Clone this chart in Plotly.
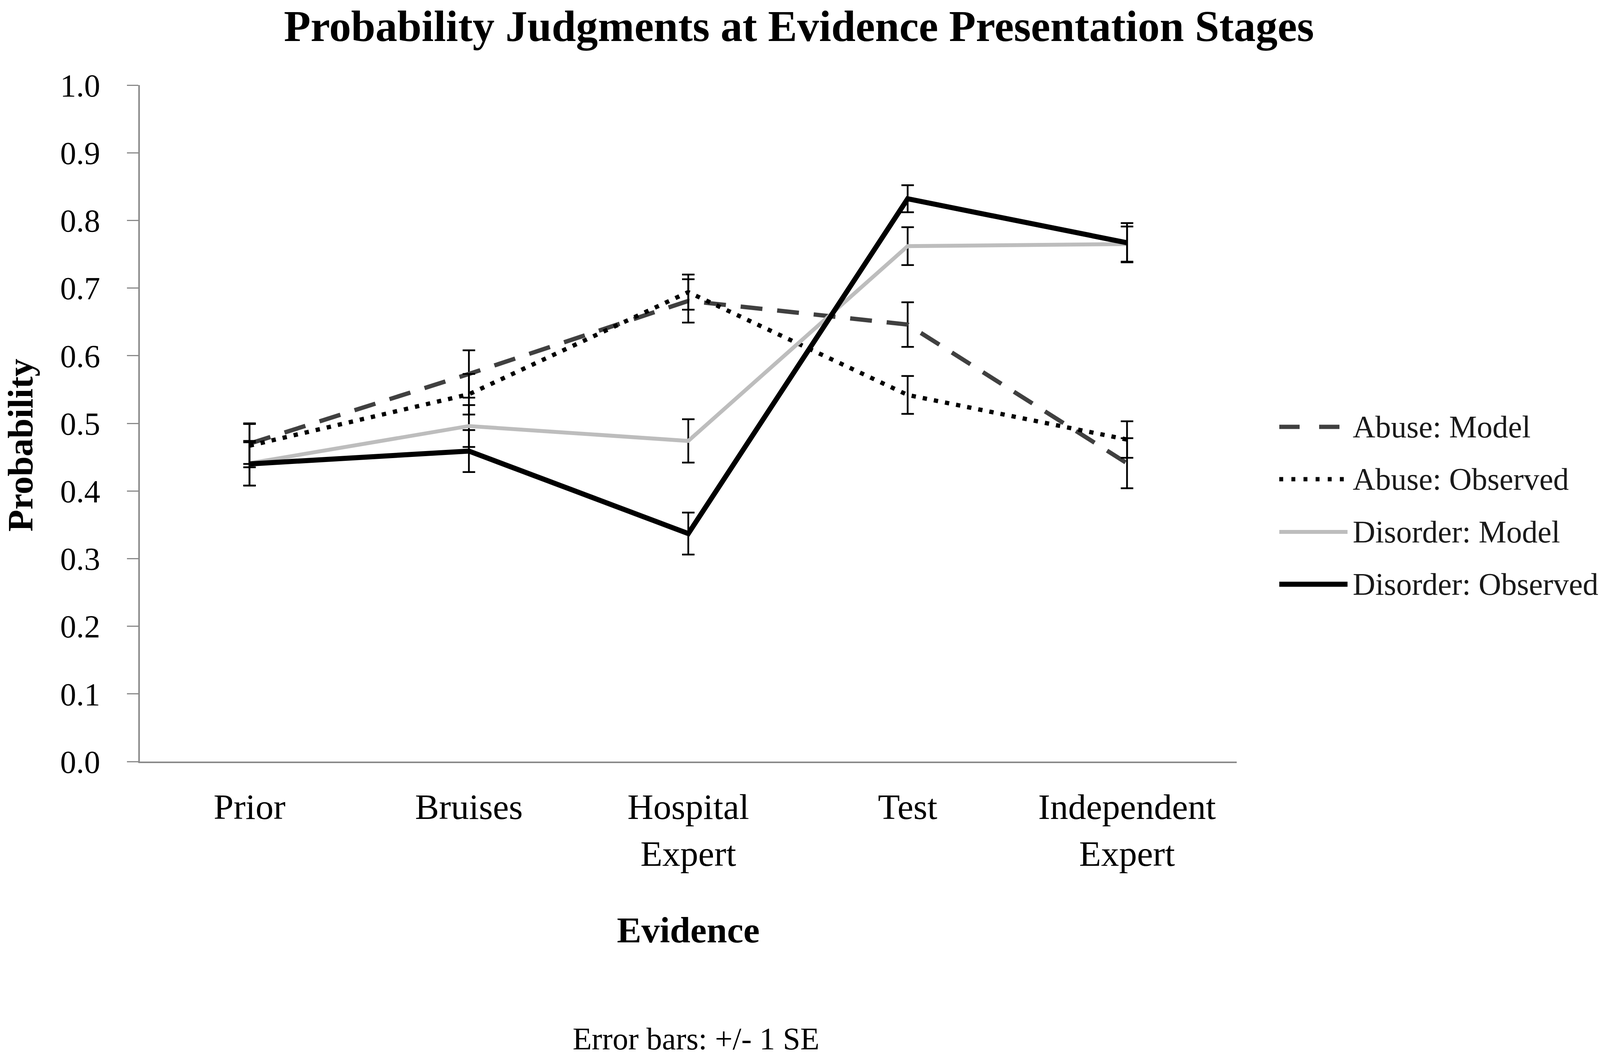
import plotly.graph_objects as go

categories = ["Prior", "Bruises", "Hospital<br>Expert", "Test", "Independent<br>Expert"]

abuse_model = [0.470, 0.573, 0.681, 0.646, 0.441]
abuse_model_se = [0.030, 0.035, 0.032, 0.033, 0.037]
abuse_observed = [0.467, 0.543, 0.694, 0.542, 0.476]
abuse_observed_se = [0.032, 0.030, 0.026, 0.028, 0.027]
disorder_model = [0.441, 0.496, 0.474, 0.762, 0.765]
disorder_model_se = [0.033, 0.031, 0.032, 0.028, 0.026]
disorder_observed = [0.440, 0.459, 0.337, 0.832, 0.767]
disorder_observed_se = [0.032, 0.031, 0.031, 0.020, 0.029]

series_names = ["Abuse: Model", "Abuse: Observed", "Disorder: Model", "Disorder: Observed"]
series_values = [abuse_model, abuse_observed, disorder_model, disorder_observed]
series_se = [abuse_model_se, abuse_observed_se, disorder_model_se, disorder_observed_se]

y_ticks = [0.0, 0.1, 0.2, 0.3, 0.4, 0.5, 0.6, 0.7, 0.8, 0.9, 1.0]
y_tick_labels = ["0.0", "0.1", "0.2", "0.3", "0.4", "0.5", "0.6", "0.7", "0.8", "0.9", "1.0"]

styles = [
    dict(color="#404040", width=11, dash="56px,38px"),
    dict(color="#000000", width=11, dash="11px,18px"),
    dict(color="#bdbdbd", width=10, dash="solid"),
    dict(color="#000000", width=13, dash="solid"),
]
legend_dash = ["52px,50px", "10px,21px", "solid", "solid"]

FONT = "Liberation Serif, Times New Roman, serif"

# The page is photographed in a 4096 px wide viewport; horizontal
# positions are the reference's scaled by SX.
W, H = 4096, 2704
SX = W / 4550.0
L = round(398 * SX)
R = W - round(3517 * SX)
T, B = 218, 754
pw = W - L - R
ph = H - T - B


def px_x(x_ref):
    return (x_ref * SX - L) / pw


def px_y(y_ref):
    return (H - B - y_ref) / ph


fig = go.Figure()
x_idx = list(range(len(categories)))
for name, vals, se, st in zip(series_names, series_values, series_se, styles):
    fig.add_trace(go.Scatter(
        x=x_idx, y=vals, name=name, mode="lines",
        line=dict(color=st["color"], width=st["width"], dash=st["dash"]),
        error_y=dict(type="data", array=se, visible=True, color="#000000",
                     thickness=4.5, width=16),
        showlegend=False,
    ))

# legend with long key lines, as in the reference
legend_y_ref = [1093, 1227, 1362, 1496]
for name, st, yref_px, dsh in zip(series_names, styles, legend_y_ref, legend_dash):
    yp = px_y(yref_px)
    fig.add_shape(type="line", xref="paper", yref="paper",
                  x0=px_x(3638), x1=px_x(3832), y0=yp, y1=yp,
                  line=dict(color=st["color"], width=st["width"], dash=dsh))
    fig.add_annotation(text=name, xref="paper", yref="paper", x=px_x(3845), y=yp,
                       xanchor="left", yanchor="middle", showarrow=False,
                       font=dict(family=FONT, size=80, color="#1a1a1a"))

fig.add_annotation(text="<b>Probability</b>", xref="paper", yref="paper",
                   x=px_x(58), y=px_y(1140), textangle=-90,
                   xanchor="center", yanchor="middle", showarrow=False,
                   font=dict(family=FONT, size=92, color="#000000"))

fig.add_annotation(text="Error bars: +/- 1 SE", xref="paper", yref="paper",
                   x=px_x(1980), y=px_y(2660),
                   xanchor="center", yanchor="middle", showarrow=False,
                   font=dict(family=FONT, size=80, color="#000000"))

fig.update_layout(
    width=W, height=H,
    margin=dict(l=L, r=R, t=T, b=B, pad=0),
    paper_bgcolor="white", plot_bgcolor="white",
    title=dict(text="<b>Probability Judgments at Evidence Presentation Stages</b>",
               xref="container", x=2272 / 4550, xanchor="center",
               yref="container", y=1 - 66 / H, yanchor="middle",
               font=dict(family=FONT, size=112, color="#000000")),
    xaxis=dict(
        range=[-0.5, len(categories) - 0.5],
        tickmode="array", tickvals=x_idx, ticktext=categories,
        showgrid=False, zeroline=False,
        showline=True, linecolor="#8a8a8a", linewidth=4,
        ticks="", ticklabelstandoff=33,
        tickfont=dict(family=FONT, size=92, color="#000000"),
        title=dict(text="<b>Evidence</b>", standoff=112,
                   font=dict(family=FONT, size=94, color="#000000")),
    ),
    yaxis=dict(
        range=[0, 1],
        tickmode="array", tickvals=y_ticks, ticktext=y_tick_labels,
        showgrid=False, zeroline=False,
        showline=True, linecolor="#8a8a8a", linewidth=4,
        ticks="outside", ticklen=29, tickwidth=3, tickcolor="#8a8a8a",
        ticklabelstandoff=52,
        tickfont=dict(family=FONT, size=82, color="#000000"),
    ),
)

fig.write_html("out.html", config={"displayModeBar": False},
               post_script="document.body.style.margin='0';")
